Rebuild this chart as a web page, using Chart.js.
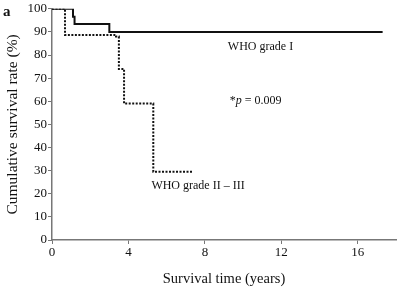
<!DOCTYPE html>
<html>
<head>
<meta charset="utf-8">
<script src="https://cdn.jsdelivr.net/npm/chart.js@4"></script>
<style>
  html, body { margin: 0; padding: 0; background: #fff; }
  #wrap { width: 398px; height: 292px; }
</style>
</head>
<body>
<div id="wrap"><canvas id="km" width="398" height="292"></canvas></div>
<script>
// Kaplan-Meier curves (years, %)
const GRADE1_TIME = [0, 1.1, 1.18, 3.0, 17.3];
const GRADE1_RATE = [100, 96.6, 93.4, 90, 90];
const GRADE23_TIME = [0, 0.68, 3.35, 3.5, 3.77, 5.3, 7.4];
const GRADE23_RATE = [100, 88.7, 88, 74, 59, 29.5, 29.5];

const X_TICKS = [0, 4, 8, 12, 16];
const Y_TICKS = [0, 10, 20, 30, 40, 50, 60, 70, 80, 90, 100];

const LABELS = [
  { text: 'WHO grade I', x: 9.2, y: 83.5 },
  { text: 'WHO grade II \u2013 III', x: 5.2, y: 23.5 },
];

const toPoints = (xs, ys) => xs.map((x, i) => ({ x, y: ys[i] }));
const SERIF = '"Liberation Serif", "DejaVu Serif", serif';

const annotate = {
  id: 'annotate',
  afterDraw(chart) {
    const { ctx, scales } = chart;
    ctx.save();
    ctx.fillStyle = '#111';
    ctx.textBaseline = 'middle';
    ctx.font = '12px ' + SERIF;
    LABELS.forEach((l) => {
      ctx.fillText(l.text, scales.x.getPixelForValue(l.x), scales.y.getPixelForValue(l.y));
    });
    // p value
    const px = scales.x.getPixelForValue(9.3);
    const py = scales.y.getPixelForValue(60);
    ctx.fillText('*', px, py);
    ctx.font = 'italic 12px ' + SERIF;
    ctx.fillText('p', px + 6, py);
    ctx.font = '12px ' + SERIF;
    ctx.fillText(' = 0.009', px + 12, py);
    ctx.font = 'bold 15px ' + SERIF;
    ctx.fillText('a', 3, 12);
    ctx.restore();
  },
};

new Chart(document.getElementById('km'), {
  type: 'scatter',
  data: {
    datasets: [
      {
        label: 'WHO grade I',
        data: toPoints(GRADE1_TIME, GRADE1_RATE),
        showLine: true,
        stepped: 'before',
        borderColor: '#111',
        borderWidth: 2,
        pointRadius: 0,
      },
      {
        label: 'WHO grade II - III',
        data: toPoints(GRADE23_TIME, GRADE23_RATE),
        showLine: true,
        stepped: 'before',
        borderColor: '#111',
        borderWidth: 2,
        borderDash: [2, 1.5],
        pointRadius: 0,
      },
    ],
  },
  options: {
    responsive: false,
    animation: false,
    layout: { padding: { top: 7, right: 2, left: 0, bottom: 0 } },
    plugins: { legend: { display: false }, tooltip: { enabled: false } },
    scales: {
      x: {
        type: 'linear',
        min: 0,
        max: 18,
        afterFit: (s) => { s.height = 52; },
        afterBuildTicks: (s) => { s.ticks = X_TICKS.map((v) => ({ value: v })); },
        border: { color: '#777', width: 1.5 },
        grid: { drawOnChartArea: false, color: '#777', tickLength: 4 },
        ticks: { color: '#111', font: { family: SERIF, size: 13 }, padding: 1, maxRotation: 0 },
        title: {
          display: true,
          text: 'Survival time (years)',
          color: '#111',
          font: { family: SERIF, size: 14.5 },
          padding: { top: 13 },
        },
      },
      y: {
        min: 0,
        max: 100,
        afterFit: (s) => { s.width = 52; },
        afterBuildTicks: (s) => { s.ticks = Y_TICKS.map((v) => ({ value: v })); },
        border: { color: '#777', width: 1.5 },
        grid: { drawOnChartArea: false, color: '#777', tickLength: 4 },
        ticks: { color: '#111', font: { family: SERIF, size: 13 }, padding: 1 },
        title: {
          display: true,
          text: 'Cumulative survival rate (%)',
          color: '#111',
          font: { family: SERIF, size: 15.5 },
          padding: { bottom: 0 },
        },
      },
    },
  },
  plugins: [annotate],
});
</script>
</body>
</html>
